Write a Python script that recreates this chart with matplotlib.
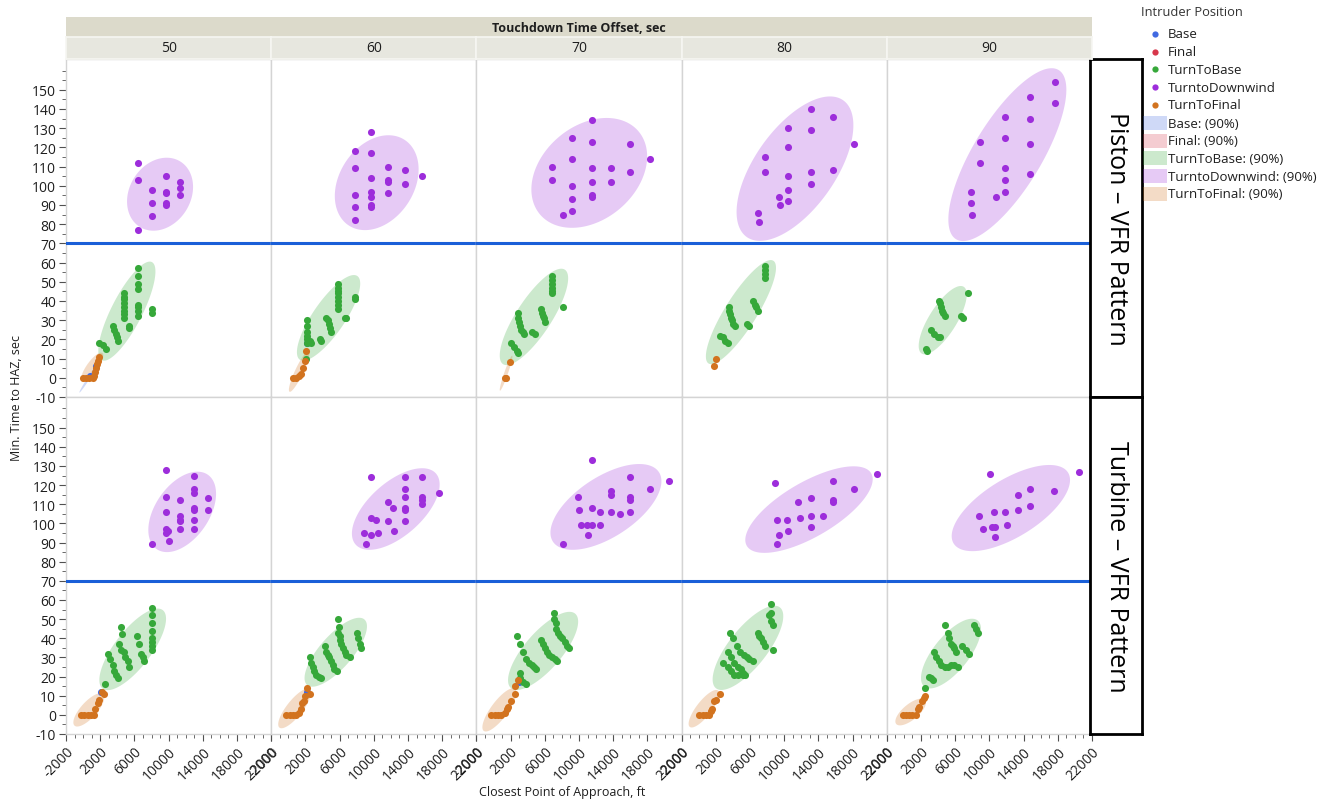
import numpy as np
import matplotlib.pyplot as plt
from matplotlib.patches import Rectangle
from matplotlib.lines import Line2D

plt.rcParams['font.family'] = ['Open Sans', 'DejaVu Sans']
plt.rcParams['axes.unicode_minus'] = False

offsets = [50, 60, 70, 80, 90]
aircraft = ['Piston', 'Turbine']
positions = ['Base', 'Final', 'TurnToBase', 'TurntoDownwind', 'TurnToFinal']

point_colors = {
    'Base': '#4169e1',
    'Final': '#d7374b',
    'TurnToBase': '#36a83a',
    'TurntoDownwind': '#9d2ddb',
    'TurnToFinal': '#d2731f',
}

# ---------- Piston ----------
# x = Closest Point of Approach (ft), y = Min. Time to HAZ (sec)
piston_downwind_x = {
    50: [6400, 6400, 6400, 8000, 8000, 8000, 9700, 9700, 9700, 9700, 9700, 11300, 11300, 11300],
    60: [7800, 7800, 7800, 7800, 7800, 9700, 9700, 9700, 9700, 9700, 9700, 9700,
         11700, 11700, 11700, 11700, 13700, 13700, 15600],
    70: [11500, 9200, 11500, 16000, 18300, 9200, 6900, 11500, 13700, 16000, 6900, 9200,
         11500, 13700, 9200, 11500, 11500, 9200, 8100],
    80: [13100, 15700, 10400, 13100, 10400, 18200, 7800, 7800, 13100, 15700, 10400, 13100,
         10400, 9400, 10400, 9500, 6900, 7000],
    90: [17700, 17700, 14700, 14700, 11800, 11800, 8900, 14700, 8900, 11800, 14700, 11800,
         7800, 11800, 10800, 7900, 8000],
}
piston_downwind_y = {
    50: [112, 103, 77, 98, 91, 84, 105, 97, 96, 91, 90, 102, 99, 95],
    60: [118, 109, 95, 89, 82, 128, 117, 104, 97, 94, 90, 89, 110, 103, 102, 96, 108, 101, 105],
    70: [134, 125, 123, 122, 114, 114, 110, 109, 109, 107, 103, 100, 102, 102, 93, 95, 94, 87, 85],
    80: [140, 136, 130, 129, 120, 122, 115, 107, 107, 108, 105, 101, 98, 94, 92, 90, 86, 81],
    90: [154, 143, 146, 135, 136, 125, 123, 122, 112, 109, 106, 103, 97, 97, 94, 91, 85],
}
piston_tobase_x = {
    50: [6400] * 8 + [4750] * 8 + [5400, 5400, 8100, 8100, 3450, 3650, 3800, 3950, 4050,
                                   1900, 2300, 2700],
    60: [5800] * 8 + [7800, 7800, 6800, 6600, 4400, 4600, 4750, 4900, 5000] + [2170] * 6
        + [2500, 2700, 3650, 3850, 2100],
    70: [6900] * 6 + [8100, 5500, 5650, 5800, 5950, 6050, 2900, 2900, 3000, 3050, 3200, 3400,
                      3600, 4550, 4800, 2100, 2350, 2700, 2900],
    80: [7800] * 4 + [6400, 6600, 6750, 6900, 3600, 3600, 3700, 3800, 3900, 4050, 4300,
                      5600, 5850, 2500, 2800, 3100, 3450],
    90: [7500, 4150, 4200, 4350, 4450, 4600, 4800, 6700, 6900, 3200, 3550, 3950, 4200, 2550, 2750],
}
piston_tobase_y = {
    50: [57, 53, 49, 46, 38, 37, 35, 32, 44, 42, 41, 39, 37, 35, 33, 31, 27, 26, 36, 34,
         27, 25, 23, 21, 19, 18, 17, 15],
    60: [49, 47, 45, 44, 42, 40, 38, 36, 42, 41, 31, 31, 31, 30, 28, 26, 24,
         30, 27, 24, 22, 20, 18, 19, 18, 20, 19, 10],
    70: [53, 51, 49, 47, 45, 44, 37, 36, 34, 32, 31, 29, 34, 31, 29, 27, 25, 24, 23, 24, 23,
         18, 16, 14, 13],
    80: [58, 56, 54, 52, 40, 38, 37, 35, 37, 35, 33, 31, 30, 28, 27, 28, 27, 22, 21, 19, 18],
    90: [44, 40, 39, 37, 35, 34, 32, 32, 31, 25, 23, 21, 21, 15, 14],
}
piston_tofinal_x = {
    50: [1900, 1800, 1650, 1500, 1450, 1300, 1100, 700, 300, -50],
    60: [2100, 1900, 1700, 1500, 1300, 900, 500],
    70: [1900, 1300, 1500],
    80: [2000, 1750],
    90: [],
}
piston_tofinal_y = {
    50: [11, 9, 7, 5, 3, 1, 0, 0, 0, 0],
    60: [14, 9, 5, 2, 1, 0, 0],
    70: [8, 0, 0],
    80: [10, 6],
    90: [],
}
piston_base_x = {50: [800, 1500], 60: [2170], 70: [], 80: [], 90: []}
piston_base_y = {50: [1, 6], 60: [18], 70: [], 80: [], 90: []}

# ---------- Turbine ----------
turbine_downwind_x = {
    50: [9700, 13000, 13000, 13000, 9700, 11300, 14600, 9700, 13000, 13000, 14600, 11300,
         11300, 11300, 13000, 9700, 9900, 9700, 11300, 13000, 10100, 8000],
    60: [9700, 13700, 15600, 17600, 13700, 13700, 15600, 15600, 15600, 11700, 12300, 13700,
         13700, 9700, 10300, 11700, 13700, 8900, 9700, 10500, 12400, 9100],
    70: [11500, 16000, 20500, 13700, 13700, 18300, 16000, 16000, 9900, 10000, 11500, 12400,
         13700, 14800, 16000, 10200, 10900, 11500, 12500, 11100, 8100],
    80: [8900, 15700, 20900, 18200, 11600, 13100, 15700, 15700, 9200, 10300, 11800, 13100,
         14500, 13100, 10500, 9400, 9100],
    90: [10100, 20500, 17600, 14700, 13300, 14700, 13400, 11800, 10500, 8800, 12100, 10300,
         10700, 9300, 10700],
}
turbine_downwind_y = {
    50: [128, 125, 118, 116, 114, 112, 113, 106, 108, 107, 107, 104, 102, 101, 102, 97, 96,
         95, 97, 97, 91, 89],
    60: [124, 124, 124, 116, 118, 114, 114, 112, 110, 111, 108, 108, 107, 103, 102, 101, 101,
         95, 94, 95, 96, 89],
    70: [133, 124, 122, 117, 115, 118, 114, 112, 114, 107, 108, 106, 106, 105, 106, 99, 99,
         99, 99, 94, 89],
    80: [121, 122, 126, 118, 111, 113, 111, 112, 102, 102, 103, 104, 104, 98, 96, 94, 89],
    90: [126, 127, 117, 118, 115, 109, 107, 106, 106, 104, 99, 98, 98, 97, 93],
}
turbine_tobase_x = {
    50: [8100] * 8 + [4450, 4550, 4250, 4450, 4800, 4950, 5200, 5400, 6300, 6500, 6800, 6950,
                      7150, 2900, 3200, 3450, 3650, 3850, 4050, 2550],
    60: [5800, 5900, 5800, 6000, 6100, 6200, 6400, 6600, 6800, 7200, 8000, 8150, 8350, 8550,
         4250, 4450, 4650, 4800, 5000, 5200, 5400, 5700, 2500, 2700, 2900, 3050, 3250, 3600, 3850],
    70: [7100, 7050, 7300, 7350, 7550, 7750, 8050, 8350, 8600, 8850, 2700, 3050, 3450, 3850,
         4150, 4450, 4700, 5000, 5600, 5800, 6000, 6200, 6500, 6800, 7150, 7450,
         3150, 3050, 3450, 3750],
    80: [8400, 8450, 8250, 8450, 8650, 8650, 6900, 7100, 7300, 7500, 7800, 3700, 4050, 4450,
         4850, 5350, 5600, 5900, 6300, 3400, 3750, 4150, 4550, 4950, 5150, 5400,
         2900, 3400, 3750, 4150, 4550, 5150],
    90: [4750, 8250, 8450, 8650, 5100, 5300, 5500, 5700, 5900, 6100, 6850, 7250, 7650,
         3500, 3750, 4050, 4350, 4750, 5100, 5500, 5900, 6300, 2900, 3150, 3450, 2500],
}
turbine_tobase_y = {
    50: [56, 52, 48, 44, 40, 38, 36, 34, 46, 42, 37, 34, 33, 30, 28, 25, 41, 37, 32, 30, 28,
         32, 29, 26, 23, 21, 19, 16],
    60: [50, 46, 43, 41, 39, 37, 35, 33, 31, 30, 43, 40, 37, 35, 36, 33, 31, 30, 28, 26, 24,
         23, 30, 27, 25, 23, 21, 20, 19],
    70: [53, 50, 48, 45, 43, 41, 40, 38, 36, 35, 41, 37, 33, 29, 27, 26, 25, 24,
         39, 37, 35, 33, 31, 30, 29, 28, 22, 19, 17, 16],
    80: [58, 53, 52, 49, 47, 34, 43, 41, 40, 38, 36, 43, 40, 36, 33, 31, 30, 29, 28,
         33, 30, 27, 25, 24, 22, 21, 27, 25, 23, 21, 21, 21],
    90: [47, 47, 45, 43, 43, 40, 37, 36, 35, 33, 36, 34, 32, 33, 30, 28, 26, 25, 25, 26, 26,
         25, 20, 19, 18, 14],
}
turbine_tofinal_x = {
    50: [2200, 2500, 1900, 1700, 1450, 1300, 900, 550, 150, -250],
    60: [2200, 2500, 1900, 1800, 1600, 1500, 1300, 900, 500, 150, -250],
    70: [2900, 2500, 2500, 2000, 1700, 1600, 1300, 900, 500, 150, -250],
    80: [2500, 2000, 1800, 1600, 1450, 1250, 850, 450, 50],
    90: [2500, 2300, 2100, 1800, 1600, 1400, 1000, 650, 250, -150],
}
turbine_tofinal_y = {
    50: [12, 11, 8, 6, 3, 0, 0, 0, 0, 0],
    60: [14, 11, 10, 7, 6, 3, 1, 0, 0, 0, 0],
    70: [18, 15, 11, 7, 4, 3, 1, 0, 0, 0, 0],
    80: [11, 8, 7, 3, 2, 0, 0, 0, 0],
    90: [10, 9, 7, 4, 3, 0, 0, 0, 0, 0],
}
turbine_base_x = {50: [2100], 60: [2200], 70: [3000], 80: [], 90: []}
turbine_base_y = {50: [12], 60: [12], 70: [17], 80: [], 90: []}

# 90% density ellipses: (mean x, mean y, x half-extent, y half-extent, correlation)
piston_downwind_ell = {
    50: (9000, 95.6, 3860, 19.0, 0.2),
    60: (10340, 101.6, 4900, 24.7, 0.28),
    70: (11200, 106.7, 6770, 28.6, 0.3),
    80: (11260, 108.9, 6830, 37.6, 0.6),
    90: (12100, 116.2, 6900, 45.0, 0.75),
}
piston_tobase_ell = {
    50: (5120, 34.7, 3340, 25.8, 0.8),
    60: (4710, 31.2, 3700, 22.3, 0.8),
    70: (4730, 31.7, 4000, 25.1, 0.8),
    80: (4940, 34.2, 4100, 27.1, 0.85),
    90: (4540, 30.0, 2810, 17.8, 0.75),
}
piston_tofinal_ell = {
    50: (1060, 5.5, 1300, 7.6, 0.8),
    60: (1280, 3.4, 1210, 10.7, 0.9),
    70: (1470, 2.4, 740, 9.1, 0.95),
}
piston_base_ell = {
    50: (830, 1.0, 1270, 8.7, 0.99),
}
turbine_downwind_ell = {
    50: (11590, 106.0, 3960, 21.0, 0.45),
    60: (12570, 107.5, 5130, 21.3, 0.6),
    70: (13150, 108.6, 6490, 22.4, 0.6),
    80: (12900, 107.2, 7450, 22.6, 0.7),
    90: (12510, 108.0, 6920, 22.5, 0.65),
}
turbine_tobase_ell = {
    50: (5800, 34.2, 3900, 21.3, 0.75),
    60: (5550, 32.7, 3650, 18.0, 0.75),
    70: (5800, 33.4, 4100, 20.4, 0.75),
    80: (5760, 35.0, 4130, 22.0, 0.75),
    90: (5510, 32.0, 3510, 18.2, 0.7),
}
turbine_tofinal_ell = {
    50: (670, 2.6, 1810, 8.7, 0.75),
    60: (750, 3.4, 1930, 10.4, 0.8),
    70: (690, 2.6, 1990, 11.3, 0.8),
    80: (610, 3.2, 1790, 9.8, 0.8),
    90: (790, 1.5, 1790, 7.0, 0.7),
}

points = {
    'Piston': [('Base', piston_base_x, piston_base_y),
               ('TurnToBase', piston_tobase_x, piston_tobase_y),
               ('TurntoDownwind', piston_downwind_x, piston_downwind_y),
               ('TurnToFinal', piston_tofinal_x, piston_tofinal_y)],
    'Turbine': [('Base', turbine_base_x, turbine_base_y),
                ('TurnToBase', turbine_tobase_x, turbine_tobase_y),
                ('TurntoDownwind', turbine_downwind_x, turbine_downwind_y),
                ('TurnToFinal', turbine_tofinal_x, turbine_tofinal_y)],
}
ellipses = {
    'Piston': [('Base', piston_base_ell), ('TurnToBase', piston_tobase_ell),
               ('TurntoDownwind', piston_downwind_ell), ('TurnToFinal', piston_tofinal_ell)],
    'Turbine': [('TurnToBase', turbine_tobase_ell), ('TurntoDownwind', turbine_downwind_ell),
                ('TurnToFinal', turbine_tofinal_ell)],
}


def density_ellipse(ax, params, color):
    cx, cy, rx, ry, rho = params
    t = np.linspace(0, 2 * np.pi, 240)
    ex = cx + rx * np.cos(t)
    ey = cy + ry * (rho * np.cos(t) + np.sqrt(1 - rho ** 2) * np.sin(t))
    ax.fill(ex, ey, color=color, alpha=0.25, lw=0, zorder=1)


W, H = 1331, 804
fig = plt.figure(figsize=(W / 100, H / 100), dpi=100)


def box(x0, y0, x1, y1):
    # pixel box measured from the top-left corner -> figure rect
    return [x0 / W, 1 - y1 / H, (x1 - x0) / W, (y1 - y0) / H]


plot_left, plot_right = 66, 1092
col_w = (plot_right - plot_left) / len(offsets)
row_edges = [(60, 398), (398, 735)]
text_color = '#1e1e1e'
grid_color = '#d4d4d4'

for r, (name, (top, bottom)) in enumerate(zip(aircraft, row_edges)):
    for c, off in enumerate(offsets):
        ax = fig.add_axes(box(plot_left + c * col_w, top, plot_left + (c + 1) * col_w, bottom))
        ax.set_xlim(-2000, 22000)
        ax.set_ylim(-10, 166)

        for pos, table in ellipses[name]:
            if off in table:
                density_ellipse(ax, table[off], point_colors[pos])
        for pos, xs, ys in points[name]:
            if xs[off]:
                ax.scatter(xs[off], ys[off], s=26, color=point_colors[pos], linewidths=0, zorder=3)

        ax.axhline(70, color='#1a5fd8', lw=2.2, zorder=5)

        for s in ax.spines.values():
            s.set_color(grid_color)
            s.set_linewidth(1)

        ax.set_yticks(np.arange(-10, 151, 10))
        ax.set_yticks(np.arange(-10, 161, 5), minor=True)
        ax.set_xticks(np.arange(-2000, 22001, 4000))
        ax.set_xticks(np.arange(-2000, 22001, 1000), minor=True)
        ax.tick_params(which='major', length=5, color='#505050', labelsize=10,
                       labelcolor=text_color, pad=2)
        ax.tick_params(which='minor', length=3, color='#505050')

        if c > 0:
            ax.tick_params(axis='y', which='both', left=False, labelleft=False)
        if r == 0:
            ax.tick_params(axis='x', which='both', bottom=False, labelbottom=False)
        else:
            for lab in ax.get_xticklabels():
                lab.set_rotation(45)
                lab.set_ha('right')
                lab.set_va('top')
                lab.set_rotation_mode('anchor')

    # row tag on the right
    tag = fig.add_axes(box(1090, top, 1142, bottom))
    tag.set_xticks([])
    tag.set_yticks([])
    for s in tag.spines.values():
        s.set_color('black')
        s.set_linewidth(2)
    tag.text(0.5, 0.5, f'{name} – VFR Pattern', rotation=270, ha='center', va='center',
             fontsize=18, color='black', transform=tag.transAxes)

# column header bands
hdr = fig.add_axes(box(plot_left, 18, plot_right, 38))
hdr.set_facecolor('#dcdacb')
hdr.set_xticks([])
hdr.set_yticks([])
for s in hdr.spines.values():
    s.set_visible(False)
hdr.text(0.5, 0.5, 'Touchdown Time Offset, sec', ha='center', va='center', fontsize=9,
         weight='bold', color=text_color, transform=hdr.transAxes)
for c, off in enumerate(offsets):
    cell = fig.add_axes(box(plot_left + c * col_w, 38, plot_left + (c + 1) * col_w, 60))
    cell.set_facecolor('#e7e7df')
    cell.set_xticks([])
    cell.set_yticks([])
    for s in cell.spines.values():
        s.set_color('#f6f6f2')
        s.set_linewidth(1.2)
    cell.text(0.5, 0.5, str(off), ha='center', va='center', fontsize=10, color=text_color,
              transform=cell.transAxes)

fig.text(17 / W, 1 - 398 / H, 'Min. Time to HAZ, sec', rotation=90, ha='center', va='center',
         fontsize=9, color=text_color)
fig.text(562 / W, 1 - 793 / H, 'Closest Point of Approach, ft', ha='center', va='center',
         fontsize=9, color=text_color)

# legend
fig.text(1141 / W, 1 - 13 / H, 'Intruder Position', ha='left', va='center', fontsize=9.3,
         color='#333333')
for i, pos in enumerate(positions):
    yy = 1 - (35 + i * 17.7) / H
    fig.add_artist(Line2D([1155 / W], [yy], marker='o', ms=4.5, ls='', mew=0,
                          color=point_colors[pos], transform=fig.transFigure))
    fig.text(1168 / W, yy, pos, ha='left', va='center', fontsize=9.5, color=text_color)
for i, pos in enumerate(positions):
    yc = 124 + i * 17.7
    fig.add_artist(Rectangle((1143 / W, 1 - (yc + 7) / H), 24 / W, 14 / H, lw=0,
                             color=point_colors[pos], alpha=0.25, transform=fig.transFigure))
    fig.text(1168 / W, 1 - yc / H, f'{pos}: (90%)', ha='left', va='center', fontsize=9.5,
             color=text_color)

fig.savefig('out.png', dpi=100)
